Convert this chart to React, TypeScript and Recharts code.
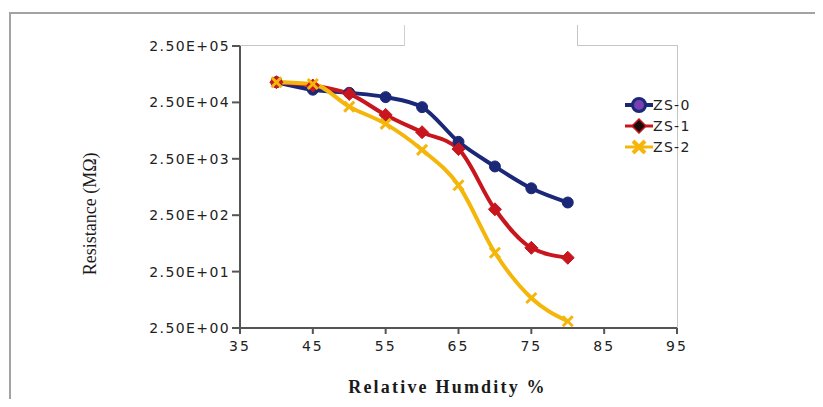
import React from "react";
import {
  LineChart,
  Line,
  XAxis,
  YAxis,
  Legend,
} from "recharts";

const humidity = [40, 45, 50, 55, 60, 65, 70, 75, 80];
const zs0 = [57000, 42000, 37000, 31000, 20600, 5000, 1830, 750, 420];
const zs1 = [57000, 49800, 35400, 15000, 7400, 3720, 318, 66, 44];
const zs2 = [57000, 53000, 21000, 10400, 3600, 850, 54, 8.5, 3.3];

const xTicks = [35, 45, 55, 65, 75, 85, 95];
const yTicks = [2.5, 25, 250, 2500, 25000, 250000];
const yTickLabels = ["2.50E+00", "2.50E+01", "2.50E+02", "2.50E+03", "2.50E+04", "2.50E+05"];

const seriesNames = ["ZS-0", "ZS-1", "ZS-2"];

const NAVY = "#1b2878";
const RED = "#c8161e";
const GOLD = "#f5b60c";
const AXIS = "#555";
const TICK_FONT = "DejaVu Sans, Verdana, sans-serif";

const data = humidity.map((h, i) => ({ h, zs0: zs0[i], zs1: zs1[i], zs2: zs2[i] }));

const CircleDot = (p: any) => (
  <circle key={`c${p.index}`} cx={p.cx} cy={p.cy} r={5.5} fill={NAVY} stroke={NAVY} strokeWidth={1} />
);

const DiamondDot = (p: any) => {
  const s = 6.5;
  return (
    <polygon
      key={`d${p.index}`}
      points={`${p.cx},${p.cy - s} ${p.cx + s},${p.cy} ${p.cx},${p.cy + s} ${p.cx - s},${p.cy}`}
      fill={RED}
      stroke={RED}
    />
  );
};

const CrossDot = (p: any) => {
  const s = 5;
  return (
    <g key={`x${p.index}`}>
      <line x1={p.cx - s} y1={p.cy - s} x2={p.cx + s} y2={p.cy + s} stroke={GOLD} strokeWidth={3} />
      <line x1={p.cx - s} y1={p.cy + s} x2={p.cx + s} y2={p.cy - s} stroke={GOLD} strokeWidth={3} />
    </g>
  );
};

function LegendIcon({ idx }: { idx: number }) {
  if (idx === 0)
    return (
      <svg width={28} height={16}>
        <line x1={0} y1={8} x2={28} y2={8} stroke={NAVY} strokeWidth={4} />
        <circle cx={14} cy={8} r={6.5} fill="#7a3fb0" stroke={NAVY} strokeWidth={3} />
      </svg>
    );
  if (idx === 1)
    return (
      <svg width={28} height={16}>
        <line x1={0} y1={8} x2={28} y2={8} stroke={RED} strokeWidth={3} />
        <polygon points="14,1 21,8 14,15 7,8" fill="#1a0a0a" stroke={RED} strokeWidth={1.5} />
      </svg>
    );
  return (
    <svg width={28} height={16}>
      <line x1={0} y1={8} x2={28} y2={8} stroke={GOLD} strokeWidth={3} />
      <line x1={8} y1={2} x2={20} y2={14} stroke={GOLD} strokeWidth={4} />
      <line x1={8} y1={14} x2={20} y2={2} stroke={GOLD} strokeWidth={4} />
    </svg>
  );
}

const renderLegend = () => (
  <div>
    {seriesNames.map((name, i) => (
      <div key={name} style={{ display: "flex", alignItems: "center", height: 21 }}>
        <LegendIcon idx={i} />
        <span
          style={{
            fontFamily: TICK_FONT,
            fontSize: 14,
            letterSpacing: 1.3,
            color: "#222",
            marginLeft: 0,
          }}
        >
          {name}
        </span>
      </div>
    ))}
  </div>
);

const YTitle = (props: any) => {
  const vb = props.viewBox;
  const cx = 96;
  const cy = vb.y + vb.height * 0.595;
  return (
    <text
      x={cx}
      y={cy}
      transform={`rotate(-90 ${cx} ${cy})`}
      textAnchor="middle"
      fontFamily="Liberation Serif, Times New Roman, serif"
      fontSize={18}
      fill="#1a1a1a"
    >
      Resistance (MΩ)
    </text>
  );
};

const XTitle = (props: any) => {
  const vb = props.viewBox;
  return (
    <text
      x={vb.x + vb.width / 2 - 11}
      y={393}
      textAnchor="middle"
      fontFamily="Liberation Serif, Times New Roman, serif"
      fontWeight="bold"
      fontSize={18}
      letterSpacing={2.2}
      fill="#1a1a1a"
    >
      Relative Humdity %
    </text>
  );
};

export default function App() {
  return (
    <div
      style={{
        position: "relative",
        width: 823,
        height: 407,
        margin: -8,
        background: "#fff",
        overflow: "hidden",
      }}
    >
      {/* outer frame */}
      <div
        style={{
          position: "absolute",
          left: 9,
          top: 12,
          width: 830,
          height: 420,
          borderTop: "2px solid #a3a3a3",
          borderLeft: "2px solid #a3a3a3",
        }}
      />
      {/* plot frame: top and right */}
      <div style={{ position: "absolute", left: 240, top: 45, width: 164, height: 1, background: "#c9c3c3" }} />
      <div style={{ position: "absolute", left: 577, top: 45, width: 100, height: 1, background: "#c9c3c3" }} />
      <div style={{ position: "absolute", left: 404, top: 25, width: 1, height: 21, background: "#d4d0d0" }} />
      <div style={{ position: "absolute", left: 577, top: 25, width: 1, height: 21, background: "#c9c3c3" }} />
      <div style={{ position: "absolute", left: 677, top: 45, width: 1, height: 284, background: "#c9c3c3" }} />

      <div style={{ position: "absolute", left: 0, top: 0 }}>
        <LineChart
          width={823}
          height={407}
          data={data}
          margin={{ top: 46, right: 46, bottom: 0, left: 0 }}
        >
          <XAxis
            dataKey="h"
            type="number"
            domain={[35, 95]}
            ticks={xTicks}
            allowDataOverflow
            height={79}
            tickSize={6}
            tickMargin={7}
            stroke={AXIS}
            strokeWidth={2}
            tick={{ fill: "#222", fontSize: 14, fontFamily: TICK_FONT, letterSpacing: 2 }}
            label={<XTitle />}
          />
          <YAxis
            scale="log"
            domain={[2.5, 250000]}
            ticks={yTicks}
            allowDataOverflow
            width={240}
            tickSize={8}
            tickMargin={2}
            stroke={AXIS}
            strokeWidth={2}
            tickFormatter={(v: number) => yTickLabels[yTicks.indexOf(v)] ?? ""}
            tick={{ fill: "#222", fontSize: 14, fontFamily: TICK_FONT, letterSpacing: 1.4 }}
            label={<YTitle />}
          />
          <Legend
            layout="vertical"
            verticalAlign="top"
            align="right"
            content={renderLegend}
            wrapperStyle={{ left: 625, top: 94, width: 100 }}
          />
          <Line
            dataKey="zs0"
            name={seriesNames[0]}
            type="monotone"
            stroke={NAVY}
            strokeWidth={4}
            dot={CircleDot}
            isAnimationActive={false}
          />
          <Line
            dataKey="zs1"
            name={seriesNames[1]}
            type="monotone"
            stroke={RED}
            strokeWidth={4}
            dot={DiamondDot}
            isAnimationActive={false}
          />
          <Line
            dataKey="zs2"
            name={seriesNames[2]}
            type="monotone"
            stroke={GOLD}
            strokeWidth={4}
            dot={CrossDot}
            isAnimationActive={false}
          />
        </LineChart>
      </div>
    </div>
  );
}
